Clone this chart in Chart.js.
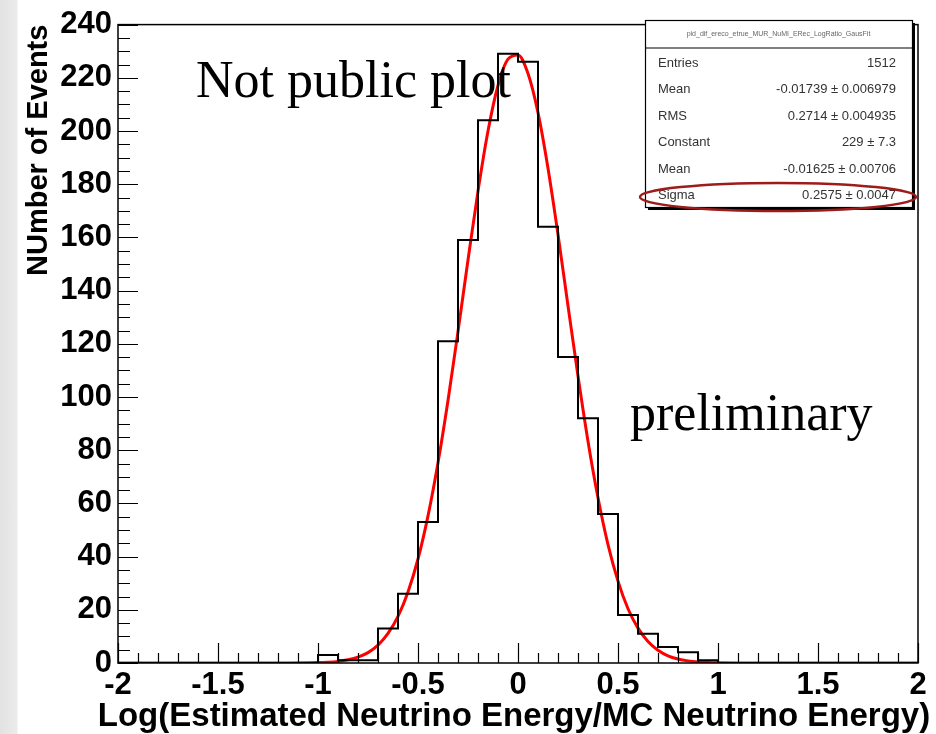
<!DOCTYPE html>
<html lang="en">
<head>
  <meta charset="UTF-8">
  <title>Log(Estimated / MC Neutrino Energy)</title>
  <script src="https://cdn.jsdelivr.net/npm/chart.js"></script>
  <style>
    body {
      margin: 0;
      background: linear-gradient(to right, #e2e2e2 0, #ebebeb 17px, #ffffff 18px);
    }
    .wrap {
      width: 936px;
      height: 734px;
      position: relative;
    }
  </style>
</head>
<body>
  <div class="wrap"><canvas id="histChart" width="936" height="734"></canvas></div>

  <script>
    // histogram: 40 bins of width 0.1 from -2 to 2
    const binStart = -2;
    const binWidth = 0.1;
    const binCounts = [
      0, 0, 0, 0, 0, 0, 0, 0, 0, 0,
      3, 1, 1, 13, 26, 53, 121, 159, 204, 229,
      226, 164, 115, 92, 56, 18, 11, 6, 4, 1,
      0, 0, 0, 0, 0, 0, 0, 0, 0, 0
    ];

    // gaussian fit curve
    const fitX = [-2, -1.2, -1.0, -0.95, -0.9, -0.85, -0.8, -0.75, -0.7, -0.65, -0.6, -0.55, -0.5,
      -0.45, -0.4, -0.35, -0.3, -0.25, -0.2, -0.15, -0.1, -0.05, 0, 0.05, 0.1, 0.15, 0.2, 0.25,
      0.3, 0.35, 0.4, 0.45, 0.5, 0.55, 0.6, 0.65, 0.7, 0.75, 0.8, 0.85, 0.9, 0.95, 1.0, 1.2, 2];
    const fitY = [0, 0, 0.15, 0.3, 0.6, 1.2, 2.2, 3.9, 6.7, 11.1, 17.5, 26.7, 39.1,
      55.3, 75.3, 98.7, 124.6, 151.5, 177.4, 200.0, 217.1, 227.0, 228.6, 221.6, 206.9, 186.0, 161.1, 134.3,
      107.9, 83.4, 62.1, 44.5, 30.8, 20.4, 13.1, 8.1, 4.8, 2.7, 1.5, 0.8, 0.4, 0.2, 0.1, 0, 0];

    const statNames = ['Entries', 'Mean', 'RMS', 'Constant', 'Mean', 'Sigma'];
    const statValues = ['1512', '-0.01739 \u00b1 0.006979', '0.2714 \u00b1 0.004935',
      '229 \u00b1 7.3', '-0.01625 \u00b1 0.00706', '0.2575 \u00b1 0.0047'];
    const histName = 'pid_dif_ereco_etrue_MUR_NuMI_ERec_LogRatio_GausFit';
    const xTitle = 'Log(Estimated Neutrino Energy/MC Neutrino Energy)';

    const histPoints = binCounts.map((c, i) => ({ x: binStart + i * binWidth, y: c }));
    histPoints.push({ x: binStart + binCounts.length * binWidth, y: binCounts[binCounts.length - 1] });
    const fitPoints = fitX.map((x, i) => ({ x: x, y: fitY[i] }));

    const sans = '"Liberation Sans", Arial, Helvetica, sans-serif';
    const serif = '"Liberation Serif", "Times New Roman", serif';

    // ROOT style frame, inward ticks, stats box and the overlaid notes
    const rootDecor = {
      id: 'rootDecor',
      afterDatasetsDraw(chart) {
        const { ctx, chartArea: a, scales: { x, y } } = chart;
        ctx.save();
        ctx.strokeStyle = '#000';
        ctx.lineWidth = 1.5;
        ctx.strokeRect(a.left, a.top, a.right - a.left, a.bottom - a.top);

        ctx.lineWidth = 1.2;
        ctx.beginPath();
        for (let k = 0; k <= 40; k++) {
          const v = -2 + k * 0.1;
          const px = Math.round(x.getPixelForValue(v)) + 0.5;
          const len = k % 5 === 0 ? 20 : 10;
          ctx.moveTo(px, a.bottom);
          ctx.lineTo(px, a.bottom - len);
        }
        for (let k = 0; k <= 48; k++) {
          const py = Math.round(y.getPixelForValue(k * 5)) + 0.5;
          const len = k % 4 === 0 ? 20 : 12;
          ctx.moveTo(a.left, py);
          ctx.lineTo(a.left + len, py);
        }
        ctx.stroke();

        // x axis title, wider than the frame as in the original
        ctx.fillStyle = '#000';
        ctx.font = 'bold 33px ' + sans;
        ctx.textAlign = 'center';
        ctx.textBaseline = 'middle';
        ctx.fillText(xTitle, 514, 717);

        // stats box
        const bx = 645, by = 20, bw = 267, bh = 187;
        ctx.fillStyle = '#000';
        ctx.fillRect(bx + 3, by + 3, bw, bh);
        ctx.fillStyle = '#fff';
        ctx.fillRect(bx, by, bw, bh);
        ctx.lineWidth = 1.2;
        ctx.strokeRect(bx + 0.5, by + 0.5, bw, bh);
        ctx.beginPath();
        ctx.moveTo(bx, by + 28);
        ctx.lineTo(bx + bw, by + 28);
        ctx.stroke();

        ctx.fillStyle = '#666';
        ctx.font = '7px ' + sans;
        ctx.fillText(histName, bx + bw / 2, by + 14);

        ctx.font = '13px ' + sans;
        ctx.fillStyle = '#333';
        statNames.forEach((name, i) => {
          const ty = 63 + i * 26.5;
          ctx.textAlign = 'left';
          ctx.fillText(name, 658, ty);
          ctx.textAlign = 'right';
          ctx.fillText(statValues[i], 896, ty);
        });

        // red ellipse around sigma
        ctx.strokeStyle = '#9e1b1b';
        ctx.lineWidth = 2.5;
        ctx.beginPath();
        ctx.ellipse(778, 197, 138, 14, 0, 0, Math.PI * 2);
        ctx.stroke();

        // overlaid notes
        ctx.fillStyle = '#000';
        ctx.textAlign = 'left';
        ctx.textBaseline = 'alphabetic';
        ctx.font = '52px ' + serif;
        ctx.fillText('Not public plot', 196, 97);
        ctx.fillText('preliminary', 630, 430);
        ctx.restore();
      }
    };

    new Chart(document.getElementById('histChart').getContext('2d'), {
      type: 'line',
      data: {
        datasets: [
          {
            label: 'histogram',
            data: histPoints,
            stepped: 'before',
            borderColor: '#000',
            borderWidth: 2,
            pointRadius: 0,
            fill: false
          },
          {
            label: 'gaus fit',
            data: fitPoints,
            borderColor: '#ff0000',
            borderWidth: 3,
            pointRadius: 0,
            cubicInterpolationMode: 'monotone',
            fill: false
          }
        ]
      },
      options: {
        responsive: false,
        animation: false,
        layout: { padding: { left: 0, right: 18, top: 14, bottom: 0 } },
        plugins: { legend: { display: false }, tooltip: { enabled: false } },
        scales: {
          x: {
            type: 'linear',
            min: -2,
            max: 2,
            grid: { display: false, drawTicks: false },
            border: { display: false },
            ticks: {
              stepSize: 0.5,
              autoSkip: false,
              maxRotation: 0,
              padding: 4,
              color: '#000',
              font: { family: sans, size: 31, weight: 'bold' },
              callback: v => String(Math.round(v * 10) / 10)
            },
            title: { display: false },
            afterFit: s => { s.height = 71; }
          },
          y: {
            min: 0,
            max: 240,
            grid: { display: false, drawTicks: false },
            border: { display: false },
            ticks: {
              stepSize: 20,
              padding: 6,
              color: '#000',
              font: { family: sans, size: 31, weight: 'bold' }
            },
            title: {
              display: true,
              text: 'NUmber of Events',
              align: 'end',
              color: '#000',
              font: { family: sans, size: 29, weight: 'bold' },
              padding: { top: 22, bottom: 0 }
            },
            afterFit: s => { s.width = 118; }
          }
        }
      },
      plugins: [rootDecor]
    });
  </script>
</body>
</html>
